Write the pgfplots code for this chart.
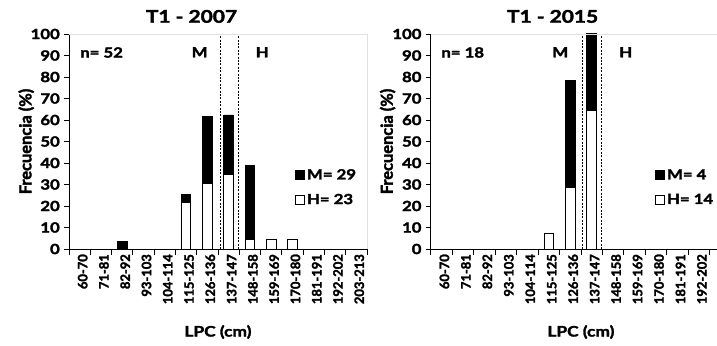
\documentclass[border=0pt]{standalone}
\usepackage{fontspec}
\setmainfont{Lato}[BoldFeatures={FakeBold=2.2}]
\newfontfamily\wf{Lato}[FakeStretch=1.2, BoldFeatures={FakeBold=2.2}]
\usepackage{pgfplots}
\usepackage{pgfplotstable}
\pgfplotsset{compat=1.18}

% length classes (LPC, cm): index, H (hembras, %), M (machos, %)
\pgfplotstableread{
idx H M
0 0 0
1 0 0
2 0 3.45
3 0 0
4 0 0
5 21.74 3.45
6 30.43 31.03
7 34.78 27.59
8 4.35 34.48
9 4.35 0
10 4.35 0
11 0 0
12 0 0
13 0 0
}\tdosmilsiete

\pgfplotstableread{
idx H M
0 0 0
1 0 0
2 0 0
3 0 0
4 0 0
5 7.14 0
6 28.57 50
7 64.29 50
8 0 0
9 0 0
10 0 0
11 0 0
12 0 0
13 0 0
}\tdosmilquince

\tikzset{
  refline/.style={black, line width=0.8pt, dash pattern=on 2bp off 1.4bp},
  lbl/.style={font=\wf\bfseries\fontsize{14}{16}\selectfont, inner sep=0pt},
  ttl/.style={font=\wf\bfseries\fontsize{17.5}{20}\selectfont, inner sep=0pt, anchor=center},
  hbar/.style={fill=white, draw=black, line width=0.8pt},
  mbar/.style={fill=black, draw=black, line width=0.8pt},
}

\pgfplotsset{
  lpc/.style={
    scale only axis, height=215bp,
    ybar stacked, bar width=9.5bp,
    xmin=-0.5, xmax=13.5, ymin=0, ymax=100,
    axis x line*=bottom, axis y line*=left,
    axis line style={black, line width=0.8pt},
    xtick={0,...,13},
    xticklabels={60-70,71-81,82-92,93-103,104-114,115-125,126-136,137-147,148-158,159-169,170-180,181-191,192-202,203-213},
    major x tick style={draw=none},
    minor xtick={-0.5,0.5,...,13.5},
    minor x tick style={black, line width=0.8pt},
    minor tick length=6bp,
    ytick={0,10,...,100},
    y tick style={black, line width=0.8pt},
    major tick length=5bp,
    tick align=outside,
    /pgf/number format/assume math mode=true,
    yticklabel style={font=\wf\bfseries\fontsize{14}{16}\selectfont, inner sep=0pt, xshift=-4bp},
    xticklabel style={font=\bfseries\fontsize{13}{15}\selectfont, rotate=90, anchor=east, inner sep=0pt, yshift=-3bp},
    ylabel={Frecuencia (\%)},
    every axis y label/.style={at={(axis description cs:-0.117,0.5)}, rotate=90, anchor=south, inner sep=0pt, font=\bfseries\fontsize{16.5}{18}\selectfont},
    xlabel={LPC (cm)},
    every axis x label/.style={at={(axis description cs:0.5,-0.386)}, anchor=center, font=\wf\bfseries\fontsize{14.5}{17}\selectfont},
    reverse legend,
    legend image code/.code={\draw[#1, line width=0.8pt] (0bp,-4.5bp) rectangle (9bp,4.5bp);},
    legend style={draw=none, fill=none, inner sep=0pt, row sep=9bp, anchor=west,
      font=\wf\bfseries\fontsize{14}{16}\selectfont},
    legend cell align=left,
    after end axis/.code={\draw[black!12, line width=0.6pt] (rel axis cs:0,1) -- (rel axis cs:1,1) -- (rel axis cs:1,0);},
  }
}

\begin{document}
\begin{tikzpicture}
\useasboundingbox (0,0) rectangle (717bp,346bp);
\clip (0,0) rectangle (717bp,346bp);

% T1 - 2007
\begin{axis}[lpc, width=297.9bp, at={(69bp,97bp)}, anchor=south west,
  legend style={at={(axis description cs:0.7587,0.2865)}}]
\addplot[hbar] table[x=idx, y=H] {\tdosmilsiete};
\addplot[mbar] table[x=idx, y=M] {\tdosmilsiete};
\legend{H= 23, M= 29}
\draw[refline] (axis cs:6.6,0) -- (axis cs:6.6,100);
\draw[refline] (axis cs:7.47,0) -- (axis cs:7.47,100);
\node[lbl, anchor=west] at (axis cs:0.02,91.4) {n= 52};
\node[lbl] at (axis cs:5.64,91.5) {M};
\node[lbl] at (axis cs:8.58,91.5) {H};
\end{axis}

% T1 - 2015
\begin{axis}[lpc, width=300.4bp, at={(430.7bp,97bp)}, anchor=south west,
  legend style={at={(axis description cs:0.747,0.2865)}}]
\addplot[hbar] table[x=idx, y=H] {\tdosmilquince};
\addplot[mbar] table[x=idx, y=M] {\tdosmilquince};
\legend{H= 14, M= 4}
\draw[refline] (axis cs:6.55,0) -- (axis cs:6.55,100);
\draw[refline] (axis cs:7.47,0) -- (axis cs:7.47,100);
\node[lbl, anchor=west] at (axis cs:-0.01,91.4) {n= 18};
\node[lbl] at (axis cs:5.54,91.5) {M};
\node[lbl] at (axis cs:8.59,91.5) {H};
\end{axis}

\node[ttl] at (191.5bp,329.6bp) {T1 - 2007};
\node[ttl] at (552.6bp,329.6bp) {T1 - 2015};
\end{tikzpicture}
\end{document}
